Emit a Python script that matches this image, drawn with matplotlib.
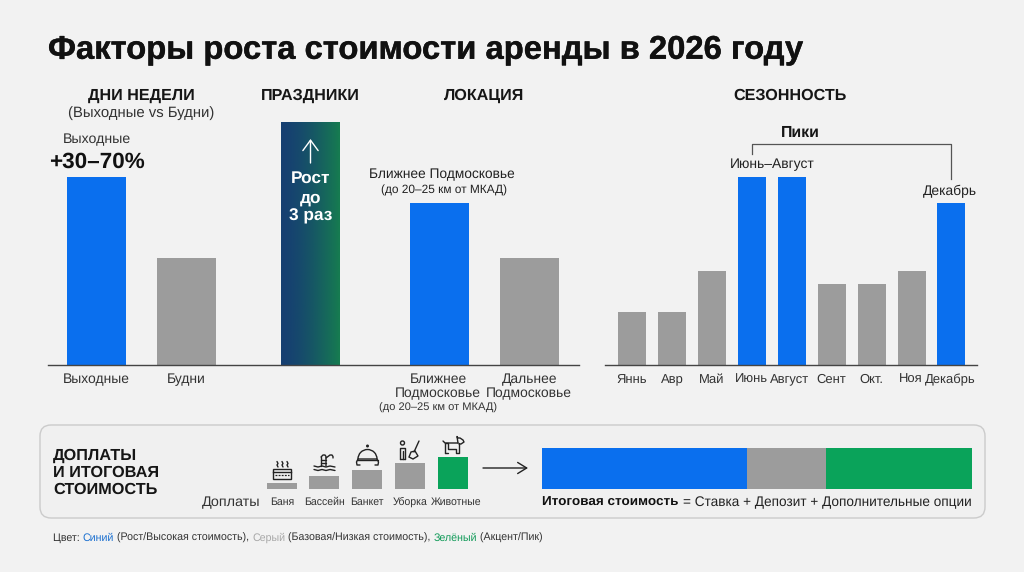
import numpy as np
import matplotlib
matplotlib.use('Agg')
import matplotlib.pyplot as plt
import matplotlib.patheffects as pe
from matplotlib.patches import FancyBboxPatch, Rectangle, Ellipse, Wedge

plt.rcParams['font.family'] = ['Liberation Sans', 'DejaVu Sans']
plt.rcParams['text.hinting'] = 'no_hinting'

# data, index with June = 100 (no scale on the picture)
week_vals = [100, 57]
holiday_vals = [129]
loc_vals = [86, 57]
month_labels = ['Яннь', 'Авр', 'Май', 'Июнь', 'Август', 'Сент', 'Окт.', 'Ноя', 'Декабрь']
month_vals = [28, 28, 50, 100, 100, 43, 43, 50, 86]
month_peak = [False, False, False, True, True, False, False, False, True]
addon_labels = ['Баня', 'Бассейн', 'Банкет', 'Уборка', 'Животные']
addon_vals = [6, 13, 19.5, 26, 32]
total_vals = [205, 79, 146]

BLUE = '#0a6fee'
GRAY = '#9c9c9c'
GREEN = '#0aa35a'
BG = '#f2f2f2'
DARK = '#161616'
W, H = 1024, 572

fig = plt.figure(figsize=(W / 100, H / 100), dpi=100, facecolor=BG)


def px_axes(x0, y0, x1, y1, **kw):
    # axes placed by pixel box, y counted from the top of the image
    a = fig.add_axes([x0 / W, 1 - y1 / H, (x1 - x0) / W, (y1 - y0) / H], **kw)
    a.patch.set_alpha(0)
    return a


# panel sits under the bars, everything else goes on the top layer
base = px_axes(0, 0, W, H)
base.set_xlim(0, W)
base.set_ylim(H, 0)
base.axis('off')
base.set_zorder(0)
base.add_patch(FancyBboxPatch((49, 434), 927, 75, boxstyle='round,pad=9,rounding_size=11',
                              fc='#f0f0f0', ec='#cbcbcb', lw=1.0))

bg = px_axes(0, 0, W, H)
bg.set_xlim(0, W)
bg.set_ylim(H, 0)
bg.axis('off')
bg.set_zorder(10)


def txt(x, y, s, size=10, weight='normal', color=DARK, ha='center', **kw):
    # y is the middle of the capitals, so a row of labels shares one baseline
    return bg.text(x, y + size * 0.49 - 0.8, s, fontsize=size, fontweight=weight, color=color,
                   ha=ha, va='baseline', **kw)


title = txt(48, 48, 'Факторы роста стоимости аренды в 2026 году', 23.6, 'bold', '#111111', ha='left')
title.set_path_effects([pe.withStroke(linewidth=0.3, foreground='#111111')])

# section headers
txt(141, 94.5, 'ДНИ НЕДЕЛИ', 11.6, 'bold')
txt(141, 112.5, '(Выходные vs Будни)', 10.7, color='#333333')
txt(310, 94.5, 'ПРАЗДНИКИ', 11.6, 'bold')
txt(484.5, 94.5, 'ЛОКАЦИЯ', 11.6, 'bold')
txt(790, 95, 'СЕЗОННОСТЬ', 11.6, 'bold')

# main bars, left group
ax = px_axes(48, 100, 579, 365)
ax.set_xlim(48, 579)
ax.set_ylim(0, 265 / 1.88)
for s in ['top', 'left', 'right']:
    ax.spines[s].set_visible(False)
ax.spines['bottom'].set_color('#444444')
ax.spines['bottom'].set_linewidth(1.0)
ax.set_yticks([])
ax.set_xticks([])
ax.bar([96.5, 186.5], week_vals, width=59, color=[BLUE, GRAY])
ax.bar([439, 529.5], loc_vals, width=59, color=[BLUE, GRAY])

# holiday bar with horizontal navy to green gradient
grad = np.linspace(0, 1, 120)[None, :, None] ** 1.5
c0 = np.array([0x16, 0x3f, 0x72]) / 255
c1 = np.array([0x16, 0x7c, 0x50]) / 255
img = c0[None, None, :] * (1 - grad) + c1[None, None, :] * grad
ax.imshow(img, extent=[281, 340, 0, holiday_vals[0]], origin='upper', aspect='auto', zorder=2)
ax.set_xlim(48, 579)
ax.set_ylim(0, 265 / 1.88)

# seasonal bars
ax2 = px_axes(605, 100, 977, 365)
ax2.set_xlim(605, 977)
ax2.set_ylim(0, 265 / 1.88)
for s in ['top', 'left', 'right']:
    ax2.spines[s].set_visible(False)
ax2.spines['bottom'].set_color('#444444')
ax2.spines['bottom'].set_linewidth(1.0)
ax2.set_yticks([])
ax2.set_xticks([])
month_x = 632 + 39.93 * np.arange(len(month_vals))
ax2.bar(month_x, month_vals, width=28, color=[BLUE if p else GRAY for p in month_peak])

# callouts
txt(97, 139, 'Выходные', 10.2, color='#333333')
txt(97, 161, '+30–70%', 16.2, 'bold', '#111111')

bg.annotate('', xy=(310.5, 139), xytext=(310.5, 163),
            arrowprops=dict(arrowstyle='->,head_length=0.75,head_width=0.55', color='white', lw=1.0, shrinkA=0, shrinkB=0))
for yy_, s in zip([178, 197, 215], ['Рост', 'до', '3 раз']):
    txt(310.5, yy_, s, 12.4, 'bold', 'white')

txt(442, 174, 'Ближнее Подмосковье', 9.9, color='#222222')
txt(444, 190, '(до 20–25 км от МКАД)', 8.6, color='#222222')

txt(800, 132, 'Пики', 11.4, 'bold')
bg.plot([751.5, 751.5, 950.5, 950.5], [154, 143.5, 143.5, 179], color='#555555', lw=0.9)
txt(772, 163.5, 'Июнь–Август', 10, color='#222222')
txt(950, 191, 'Декабрь', 10, color='#222222')

# tick labels under the axes
for x, s in zip([96.5, 186.5], ['Выходные', 'Будни']):
    txt(x, 379, s, 10, color='#333333')
txt(438, 379, 'Ближнее', 10, color='#333333')
txt(438, 393.5, 'Подмосковье', 10, color='#333333')
txt(529.5, 379, 'Дальнее', 10, color='#333333')
txt(529, 393.5, 'Подмосковье', 10, color='#333333')
txt(438, 407.5, '(до 20–25 км от МКАД)', 8, color='#333333')
for x, s in zip(month_x + np.array([0, 0, 0, 0, -2, 0, 0, -1, -1]), month_labels):
    txt(x, 379, s, 9.4, color='#333333')

# bottom panel
for y, s in zip([455, 472, 489], ['ДОПЛАТЫ', 'И ИТОГОВАЯ', 'СТОИМОСТЬ']):
    txt(53, y, s, 11.7, 'bold', '#161616', ha='left')
txt(231, 502, 'Доплаты', 10.4, color='#333333')

# add-on bars
ax3 = px_axes(260, 440, 475, 489)
ax3.set_xlim(260, 475)
ax3.set_ylim(0, 49)
ax3.axis('off')
addon_x = [282, 324, 367, 410, 452.5]
ax3.bar(addon_x, addon_vals, width=30, color=[GRAY] * 4 + [GREEN])
for x, s in zip([282, 324.5, 367, 410, 456], addon_labels):
    txt(x, 502, s, 7.6, color='#333333')

ic = dict(color='#222222', lw=1.0, solid_capstyle='round')
# bath
bg.add_patch(Rectangle((273, 468.5), 18, 10, fc='none', ec='#222222', lw=1.0))
bg.plot([273, 291], [472, 472], color='#222222', lw=1.0)
bg.plot([275, 289], [474.5, 474.5], color='#222222', lw=0.9, ls=(0, (1.5, 1)))
for x in [277, 282, 287]:
    bg.plot([x, x + 1, x, x + 1], [461.5, 463.5, 465, 467], **ic)
# pool
bg.plot([321, 321], [466, 457], **ic)
bg.plot([321, 323, 325, 326, 326], [457, 455, 455, 456.5, 466], **ic)
bg.plot([326, 330, 332, 333, 333], [458, 455, 455, 456.5, 458], **ic)
bg.plot([321, 326], [459.5, 459.5], **ic)
bg.plot([321, 326], [462.5, 462.5], **ic)
wave_x = [314, 318, 322, 326, 330, 335]
bg.plot(wave_x, [466, 467, 466, 467, 466, 467], **ic)
bg.plot(wave_x, [469.5, 470.5, 469.5, 470.5, 469.5, 470.5], **ic)
# cloche
bg.add_patch(Wedge((367.5, 459), 9.5, 180, 360, fc='none', ec='#222222', lw=1.0, zorder=3))
base.add_patch(Ellipse((367.5, 446), 3, 3, fc='#222222', ec='none'))
bg.plot([358, 356.5, 357, 360], [459, 462, 465, 465], **ic)
bg.plot([377, 378.5, 378, 375], [459, 462, 465, 465], **ic)
bg.plot([357, 378], [460, 460], **ic)
# person and broom
bg.add_patch(Ellipse((402.5, 443), 4, 4, fc='none', ec='#222222', lw=1.0))
bg.plot([399.5, 399.5, 405, 405], [459, 447.5, 447.5, 459], **ic)
bg.plot([402.5, 402.5], [451, 459], **ic)
bg.plot([399.5, 405], [459, 459], **ic)
bg.plot([419, 414], [441, 452], **ic)
bg.fill([411, 415, 418, 413, 409], [452, 451, 456, 459, 457], fc='none', ec='#222222', lw=1.0)
# dog
bg.plot([443, 445, 458], [441, 443, 443], **ic)
bg.plot([445, 445, 448, 448, 456, 456, 459, 459], [453, 443, 443, 449, 449, 453, 453, 443], **ic)
bg.plot([445, 448], [453, 453], **ic)
bg.plot([458, 457, 458, 460, 463, 464, 461, 459], [443, 436.5, 438, 438, 440, 442, 444, 444], **ic)

# arrow
bg.annotate('', xy=(528, 468), xytext=(483, 468),
            arrowprops=dict(arrowstyle='->,head_length=0.65,head_width=0.4', color='#222222', lw=1.0, shrinkA=0, shrinkB=0))

# total cost bar
ax4 = px_axes(542, 448, 972, 489)
ax4.set_xlim(0, sum(total_vals))
ax4.set_ylim(0, 1)
ax4.axis('off')
ax4.barh([0.5], [total_vals[0]], height=1, color=BLUE)
ax4.barh([0.5], [total_vals[1]], left=total_vals[0], height=1, color=GRAY)
ax4.barh([0.5], [total_vals[2]], left=total_vals[0] + total_vals[1], height=1, color=GREEN)

txt(542, 502, 'Итоговая стоимость', 9.7, 'bold', '#111111', ha='left')
txt(972, 502, '= Ставка + Депозит + Дополнительные опции', 9.8, color='#222222', ha='right')

# colour legend line
r = fig.canvas.get_renderer()
x = 53
parts = [('Цвет: ', '#333333'), ('Синий', '#1a6fd0'), (' (Рост/Высокая стоимость), ', '#333333'),
         ('Серый', '#a8a8a8'), (' (Базовая/Низкая стоимость), ', '#333333'),
         ('Зелёный', '#109a58'), (' (Акцент/Пик)', '#333333')]
for s, c in parts:
    t = txt(x, 538, s.replace(' ', '\u00a0'), 7.68, color=c, ha='left')
    x = t.get_window_extent(r).x1

fig.savefig('out.png', dpi=100, facecolor=BG)
